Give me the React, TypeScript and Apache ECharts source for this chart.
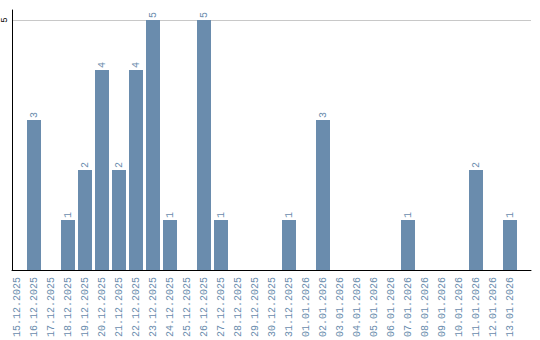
import React, { useEffect, useRef } from "react";
import * as echarts from "echarts";

const categories = [
  "15.12.2025", "16.12.2025", "17.12.2025", "18.12.2025", "19.12.2025",
  "20.12.2025", "21.12.2025", "22.12.2025", "23.12.2025", "24.12.2025",
  "25.12.2025", "26.12.2025", "27.12.2025", "28.12.2025", "29.12.2025",
  "30.12.2025", "31.12.2025", "01.01.2026", "02.01.2026", "03.01.2026",
  "04.01.2026", "05.01.2026", "06.01.2026", "07.01.2026", "08.01.2026",
  "09.01.2026", "10.01.2026", "11.01.2026", "12.01.2026", "13.01.2026",
];
const counts = [
  0, 3, 0, 1, 2, 4, 2, 4, 5, 1,
  0, 5, 1, 0, 0, 0, 1, 0, 3, 0,
  0, 0, 0, 1, 0, 0, 0, 2, 0, 1,
];
const yTickLabels = [5];

const BAR = "#6a8cad";
const MONO = "'Liberation Mono', 'DejaVu Sans Mono', monospace";

export default function App() {
  const ref = useRef<HTMLDivElement>(null);
  useEffect(() => {
    if (!ref.current) return;
    const chart = echarts.init(ref.current, undefined, { renderer: "svg" });
    chart.setOption({
      animation: false,
      grid: [
        { left: 8.5, top: 10, width: 510, height: 260 },
        { left: 10, top: 10, width: 521, height: 260 },
      ],
      xAxis: [
        {
          type: "category",
          gridIndex: 0,
          data: categories,
          axisLine: { show: false },
          axisTick: { show: false },
          splitLine: { show: false },
          axisLabel: {
            interval: 0,
            rotate: 90,
            margin: 7,
            color: BAR,
            fontSize: 10,
            fontFamily: MONO,
          },
        },
        {
          type: "value",
          gridIndex: 1,
          min: 0,
          max: 1,
          axisLine: { show: true, onZero: false, lineStyle: { color: "#000", width: 1 } },
          axisTick: { show: false },
          axisLabel: { show: false },
          splitLine: { show: false },
        },
      ],
      yAxis: [
        {
          type: "value",
          gridIndex: 0,
          min: 0,
          max: 5.2,
          show: false,
          splitLine: { show: false },
        },
        {
          type: "value",
          gridIndex: 1,
          min: 0,
          max: 5.2,
          interval: 5,
          axisLine: { show: true, lineStyle: { color: "#000", width: 1 } },
          axisTick: { show: false },
          axisLabel: {
            rotate: 90,
            margin: 3,
            color: "#000",
            fontSize: 9,
            fontFamily: MONO,
            formatter: (v: number) => (yTickLabels.includes(v) ? String(v) : ""),
          },
          splitLine: {
            show: true,
            showMinLine: false,
            showMaxLine: false,
            lineStyle: { color: "#c8c8c8", width: 1 },
          },
        },
      ],
      series: [
        {
          type: "bar",
          xAxisIndex: 0,
          yAxisIndex: 0,
          data: counts,
          barWidth: 14,
          itemStyle: { color: BAR },
          label: {
            show: true,
            position: "top",
            rotate: 90,
            align: "left",
            verticalAlign: "middle",
            distance: 2,
            color: BAR,
            fontSize: 10,
            fontFamily: MONO,
            formatter: (p: any) => (p.value ? String(p.value) : ""),
          },
        },
      ],
    });
    return () => chart.dispose();
  }, []);
  return (
    <div
      ref={ref}
      style={{ position: "absolute", left: 0, top: 0, width: 540, height: 340, background: "#fff" }}
    />
  );
}
